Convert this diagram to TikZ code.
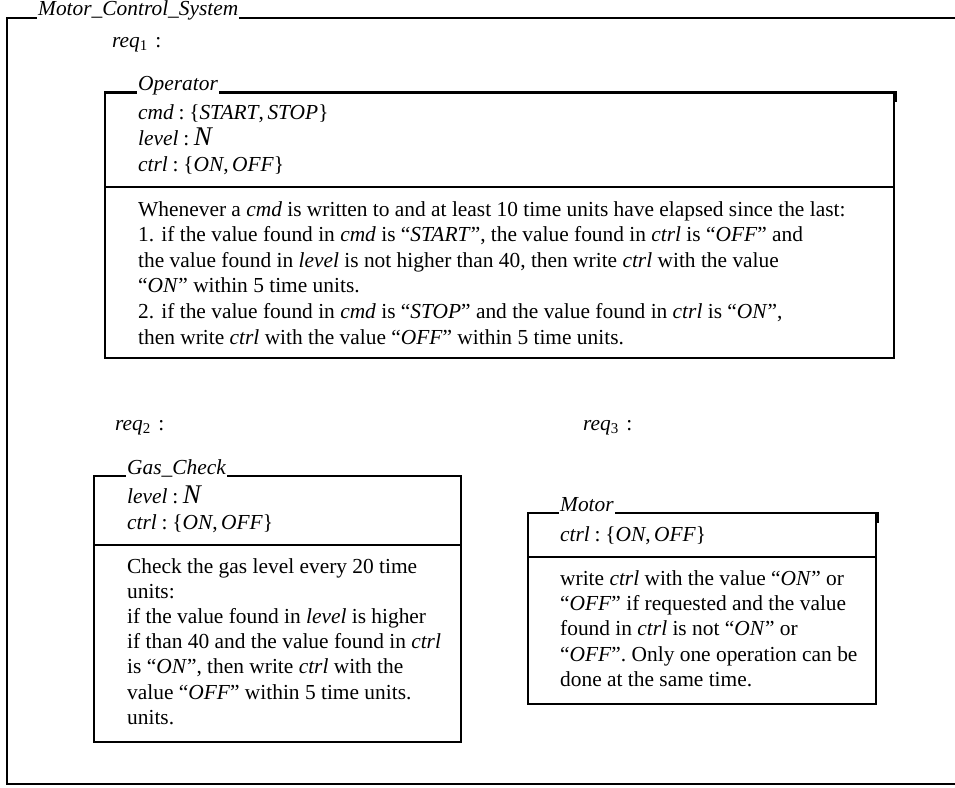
\documentclass[tikz,border=0pt]{standalone}
\usepackage{fontspec}
\setmainfont{Liberation Serif}
\newcommand\zlines[1]{\vtop{\halign{##\hfil\cr#1\crcr}}}
\newcommand\zN{{\fontsize{27}{27}\selectfont\textit{N}}}
\newcommand\zc{\kern0.22em:\kern0.22em}
\newcommand\zreq[1]{\textit{req}\textsubscript{#1}\kern0.35em:}
\begin{document}
\begin{tikzpicture}[x=1pt,y=-1pt,
  frame/.style={line width=2.5pt, line cap=rect},
  oframe/.style={line width=2.8pt, line cap=rect},
  ztext/.style={anchor=base west, inner sep=0pt, font=\fontsize{21.4}{25.2}\selectfont},
  zdecl/.style={anchor=base west, inner sep=0pt, font=\fontsize{21.4}{26}\selectfont},
  ztitle/.style={anchor=base west, inner xsep=2pt, inner ysep=0pt, font=\fontsize{21.4}{25.2}\selectfont\itshape}]
\useasboundingbox (0,0) rectangle (955,787);

% outer schema
\node[ztitle] (mt) at (36,16) {Motor\_Control\_System};
\draw[oframe] (955,784) -- (7,784) -- (7,18) -- (mt.west |- 0,18);
\draw[oframe] (mt.east |- 0,18) -- (955,18);

\node[ztext] (r1) at (112,47) {\zreq{1}};
\node[ztext] (r2) at (115,430) {\zreq{2}};
\node[ztext] (r3) at (583,430) {\zreq{3}};

% Operator
\node[ztitle] (op) at (136,90.5) {Operator};
\draw[frame] (op.west |- 0,92.5) -- (105,92.5) -- (105,358) -- (894,358) -- (894,92.5) -- (op.east |- 0,92.5);
\draw[frame] (105,187) -- (894,187);
\fill (892.5,91.2) rectangle (896.5,102);
\node[zdecl] (opd) at (138,119) {\zlines{%
\textit{cmd}\zc\{\textit{START},\,\textit{STOP}\}\cr
\textit{level}\zc\zN\cr
\textit{ctrl}\zc\{\textit{ON},\,\textit{OFF}\}}};
\node[ztext, font=\fontsize{21.4}{25.6}\selectfont] (opp) at (138,216) {\zlines{%
Whenever a \textit{cmd} is written to and at least 10 time units have elapsed since the last:\cr
1. if the value found in \textit{cmd} is “\textit{START}”, the value found in \textit{ctrl} is “\textit{OFF}” and\cr
the value found in \textit{level} is not higher than 40, then write \textit{ctrl} with the value\cr
“\textit{ON}” within 5 time units.\cr
2. if the value found in \textit{cmd} is “\textit{STOP}” and the value found in \textit{ctrl} is “\textit{ON}”,\cr
then write \textit{ctrl} with the value “\textit{OFF}” within 5 time units.}};

% Gas_Check
\node[ztitle] (gc) at (125,474) {Gas\_Check};
\draw[frame] (gc.west |- 0,476) -- (94,476) -- (94,742) -- (461,742) -- (461,476) -- (gc.east |- 0,476);
\draw[frame] (94,545) -- (461,545);
\node[zdecl] (gcd) at (127,503) {\zlines{%
\textit{level}\zc\zN\cr
\textit{ctrl}\zc\{\textit{ON},\,\textit{OFF}\}}};
\node[ztext] (gcp) at (127,573) {\zlines{%
Check the gas level every 20 time\cr
units:\cr
if the value found in \textit{level} is higher\cr
if than 40 and the value found in \textit{ctrl}\cr
is “\textit{ON}”, then write \textit{ctrl} with the\cr
value “\textit{OFF}” within 5 time units.\cr
units.}};

% Motor
\node[ztitle] (mo) at (558,511) {Motor};
\draw[frame] (mo.west |- 0,513) -- (528,513) -- (528,704) -- (876,704) -- (876,513) -- (mo.east |- 0,513);
\draw[frame] (528,557) -- (876,557);
\fill (874.5,511.7) rectangle (878.5,523);
\node[zdecl] (mod) at (560,541) {\zlines{%
\textit{ctrl}\zc\{\textit{ON},\,\textit{OFF}\}}};
\node[ztext] (mop) at (560,585.5) {\zlines{%
write \textit{ctrl} with the value “\textit{ON}” or\cr
“\textit{OFF}” if requested and the value\cr
found in \textit{ctrl} is not “\textit{ON}” or\cr
“\textit{OFF}”. Only one operation can be\cr
done at the same time.}};
\end{tikzpicture}
\end{document}
